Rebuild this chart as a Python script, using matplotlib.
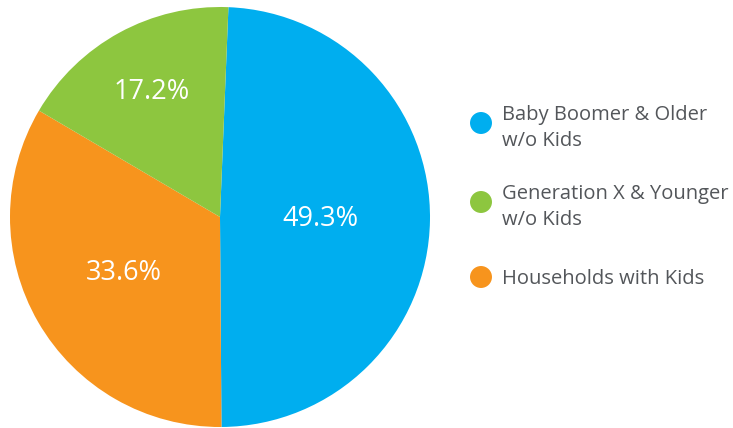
import matplotlib
matplotlib.use("Agg")
import matplotlib.pyplot as plt
import numpy as np

categories = ["Baby Boomer & Older\nw/o Kids", "Generation X & Younger\nw/o Kids", "Households with Kids"]
pie_order = [0, 2, 1]  # drawing order clockwise from top
values = [49.3, 17.2, 33.6]
colors = ["#00AEEF", "#8DC63F", "#F7941D"]
label_dist = [0.48, 0.68, 0.53]

plt.rcParams['font.family'] = ['Open Sans', 'DejaVu Sans']

W, H = 733, 428
fig = plt.figure(figsize=(W / 100, H / 100), dpi=100)
fig.patch.set_facecolor("white")

ax = fig.add_axes([10 / W, 1 / H, 420 / W, 420 / H])

vals = [values[i] for i in pie_order]
cols = [colors[i] for i in pie_order]
dists = [label_dist[i] for i in pie_order]
wedges, _ = ax.pie(vals, colors=cols, startangle=87.7, counterclock=False,
                   radius=1, wedgeprops=dict(linewidth=0))
ax.set_xlim(-1, 1)
ax.set_ylim(-1, 1)
ax.set_aspect("equal")
ax.axis("off")
for w, v, d in zip(wedges, vals, dists):
    ang = np.deg2rad((w.theta1 + w.theta2) / 2)
    ax.text(d * np.cos(ang), d * np.sin(ang), f"{v:.1f}%", color="white",
            fontsize=19.5, ha="center", va="center")

# legend
lax = fig.add_axes([0, 0, 1, 1])
lax.set_xlim(0, W)
lax.set_ylim(H, 0)
lax.axis("off")
marker_y = [123, 202, 277]
text_y = [128, 207, 279]
for c, lab, my, ty in zip(colors, categories, marker_y, text_y):
    lax.scatter([481], [my], s=250, color=c, edgecolors="none")
    lax.text(502, ty, lab, fontsize=14.5, color="#53565A", ha="left", va="center",
             linespacing=1.35)

fig.savefig("out.png", dpi=100)
